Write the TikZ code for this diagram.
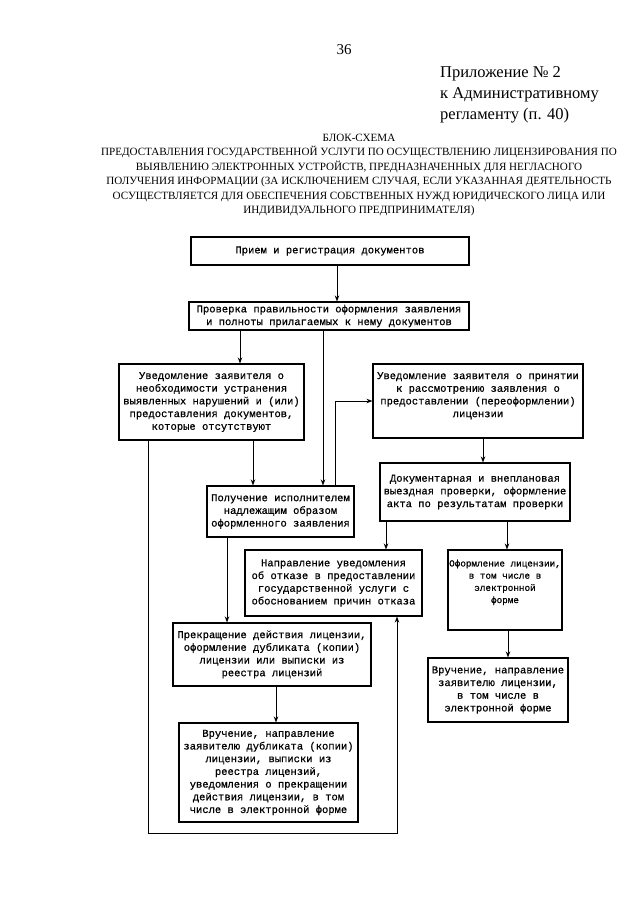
\documentclass[tikz,border=0pt]{standalone}
\usepackage{fontspec}
\setmainfont{Liberation Serif}
\newfontfamily\monof[UprightFeatures={FakeBold=0.6}]{Liberation Mono}
\usetikzlibrary{arrows.meta,calc}
\begin{document}
\begin{tikzpicture}[x=1pt,y=-1pt,
  box/.style={draw, line width=1.1pt, inner sep=0pt, align=center, font=\monof\fontsize{10.5}{12.7}\selectfont},
  arr/.style={line width=0.9pt, -{Stealth[length=6pt,width=4.5pt]}},
  hdr/.style={inner sep=0pt, font=\fontsize{16.5}{21}\selectfont, align=left}]
\useasboundingbox (0,0) rectangle (640,905);
\fill[white] (0,0) rectangle (640,905);

\node[inner sep=0pt, font=\fontsize{15}{18}\selectfont] (pg) at (344,50) {36};
\node[hdr, anchor=north west] (app) at (440,66) {Приложение № 2\\к Административному\\регламенту (п. 40)};
\node[inner sep=0pt, font=\fontsize{11.1}{14.4}\selectfont, align=center] (title) at (359,175) {БЛОК-СХЕМА\\ПРЕДОСТАВЛЕНИЯ ГОСУДАРСТВЕННОЙ УСЛУГИ ПО ОСУЩЕСТВЛЕНИЮ ЛИЦЕНЗИРОВАНИЯ ПО\\ВЫЯВЛЕНИЮ ЭЛЕКТРОННЫХ УСТРОЙСТВ, ПРЕДНАЗНАЧЕННЫХ ДЛЯ НЕГЛАСНОГО\\ПОЛУЧЕНИЯ ИНФОРМАЦИИ (ЗА ИСКЛЮЧЕНИЕМ СЛУЧАЯ, ЕСЛИ УКАЗАННАЯ ДЕЯТЕЛЬНОСТЬ\\ОСУЩЕСТВЛЯЕТСЯ ДЛЯ ОБЕСПЕЧЕНИЯ СОБСТВЕННЫХ НУЖД ЮРИДИЧЕСКОГО ЛИЦА ИЛИ\\ИНДИВИДУАЛЬНОГО ПРЕДПРИНИМАТЕЛЯ)};

\node[box, minimum width=278, minimum height=28] (b1) at (330,251) {Прием и регистрация документов};
\node[box, minimum width=280, minimum height=28] (b2) at (329,316) {Проверка правильности оформления заявления\\и полноты прилагаемых к нему документов};
\node[box, minimum width=185, minimum height=76] (b3) at (211.5,402) {Уведомление заявителя о\\необходимости устранения\\выявленных нарушений и (или)\\предоставления документов,\\которые отсутствуют};
\node[box, minimum width=210, minimum height=74] (b4) at (478,401) {Уведомление заявителя о принятии\\к рассмотрению заявления о\\предоставлении (переоформлении)\\лицензии\\ \mbox{}};
\node[box, minimum width=147, minimum height=51] (b5) at (280.5,511.5) {Получение исполнителем\\надлежащим образом\\оформленного заявления};
\node[box, minimum width=190, minimum height=58] (b6) at (475,492) {Документарная и внеплановая\\выездная проверки, оформление\\акта по результатам проверки};
\node[box, minimum width=177, minimum height=66] (b7) at (333.5,583) {Направление уведомления\\об отказе в предоставлении\\государственной услуги с\\обоснованием причин отказа};
\node[box, minimum width=114, minimum height=80, font=\monof\fontsize{9.3}{12.2}\selectfont] (b8) at (505,590) {Оформление лицензии,\\в том числе в\\электронной\\форме\\[5pt] \mbox{}};
\node[box, minimum width=198, minimum height=63] (b9) at (272,654.5) {Прекращение действия лицензии,\\оформление дубликата (копии)\\лицензии или выписки из\\реестра лицензий};
\node[box, minimum width=179, minimum height=99] (b10) at (268.5,772.5) {Вручение, направление\\заявителю дубликата (копии)\\лицензии, выписки из\\реестра лицензий,\\уведомления о прекращении\\действия лицензии, в том\\числе в электронной форме};
\node[box, minimum width=140, minimum height=64] (b11) at (498,690) {Вручение, направление\\заявителю лицензии,\\в том числе в\\электронной форме};

\draw[arr] ([xshift=7]b1.south) -- ([xshift=8]b2.north);
\draw[arr] ([xshift=-89]b2.south) -- ([xshift=28.5]b3.north);
\draw[arr] ([xshift=-6]b2.south) -- ([xshift=42.5]b5.north);
\draw[arr] ([xshift=41.5]b3.south) -- ([xshift=-27.5]b5.north);
\draw[arr] ([xshift=54.5]b5.north) |- (b4.west);
\draw[arr] ([xshift=5]b4.south) -- ([xshift=8]b6.north);
\draw[arr] ([xshift=-89]b6.south) -- ([xshift=52.5]b7.north);
\draw[arr] ([xshift=32]b6.south) -- ([xshift=2]b8.north);
\draw[arr] ([xshift=3]b8.south) -- ([xshift=10]b11.north);
\draw[arr] ([xshift=-53.5]b5.south) -- ([xshift=-45]b9.north);
\draw[arr] ([xshift=4]b9.south) -- ([xshift=7.5]b10.north);
\coordinate (lp) at ([yshift=-11]b10.south);
\draw[arr] ([xshift=-63.5]b3.south) |- (lp) -| ([xshift=63.5]b7.south);
\end{tikzpicture}
\end{document}
